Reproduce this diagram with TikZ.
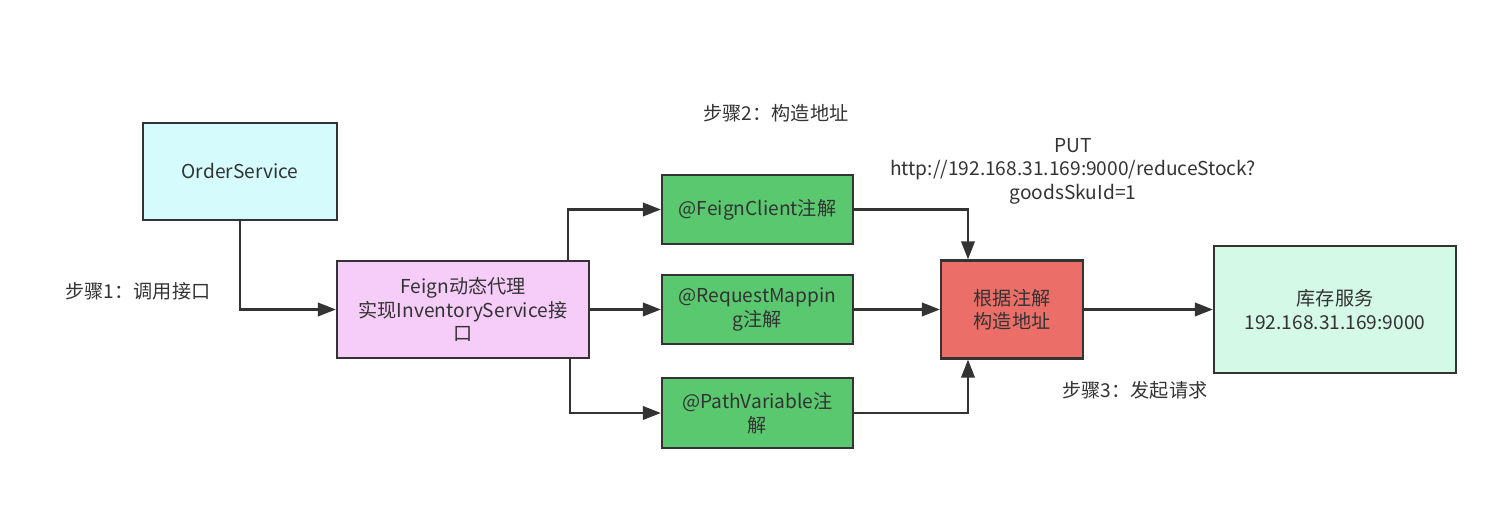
\documentclass[tikz,border=0pt]{standalone}
\usepackage{fontspec}
\setmainfont{Noto Sans CJK SC}
\usepackage{tikz}
\usetikzlibrary{positioning,arrows.meta}
\usepackage{xcolor}

\definecolor{linegray}{HTML}{333333}
\definecolor{txtgray}{HTML}{333333}
\definecolor{cyanfill}{HTML}{D5FBFC}
\definecolor{pinkfill}{HTML}{F5CDF8}
\definecolor{greenfill}{HTML}{5AC86F}
\definecolor{redfill}{HTML}{EC6E68}
\definecolor{mintfill}{HTML}{D4F9E6}

\begin{document}
\begin{tikzpicture}[
        font=\fontsize{10.9}{13.4}\selectfont, text=txtgray,
        box/.style={draw=linegray, line width=1.3pt, align=center, inner sep=2pt},
        flow/.style={draw=linegray, line width=1.3pt, -{Triangle[length=0.36cm, width=0.27cm]}},
        steplabel/.style={align=center}
    ]
        \useasboundingbox (0,0) rectangle (30.08,10.52);

        % Boxes
        \node[box, fill=cyanfill, minimum width=3.88cm, minimum height=1.94cm] (order) at (4.80,7.09) {OrderService};
        \node[box, fill=pinkfill, minimum width=5.04cm, minimum height=1.94cm] (feign) at (9.26,4.33) {Feign动态代理\\实现InventoryService接\\口};

        \node[box, fill=greenfill, minimum width=3.82cm, minimum height=1.38cm] (client) at (15.15,6.33) {@FeignClient注解};
        \node[box, fill=greenfill, minimum width=3.82cm, minimum height=1.38cm] (mapping) at (15.15,4.33) {@RequestMappin\\g注解};
        \node[box, fill=greenfill, minimum width=3.82cm, minimum height=1.40cm] (pathvar) at (15.15,2.26) {@PathVariable注\\解};

        \node[box, fill=redfill, minimum width=2.84cm, minimum height=1.96cm] (build) at (20.24,4.33) {根据注解\\构造地址};
        \node[box, fill=mintfill, minimum width=4.84cm, minimum height=2.54cm] (stock) at (26.70,4.33) {库存服务\\192.168.31.169:9000};

        % Connectors
        \draw[flow] (order.south) |- (feign.west);
        \draw[flow] ([xshift=2.1cm]feign.north) |- (client.west);
        \draw[flow] (feign.east) -- (mapping.west);
        \draw[flow] ([xshift=2.14cm]feign.south) |- (pathvar.west);

        \draw[flow] (client.east) -| ([xshift=-0.88cm]build.north);
        \draw[flow] (mapping.east) -- (build.west);
        \draw[flow] (pathvar.east) -| ([xshift=-0.88cm]build.south);
        \draw[flow] (build.east) -- (stock.west);

        % Labels
        \node[steplabel] (step1) at (2.76,4.70) {步骤1：调用接口};
        \node[steplabel] (step2) at (15.52,8.26) {步骤2：构造地址};
        \node[steplabel] (url) at (21.46,7.10) {PUT\\http://192.168.31.169:9000/reduceStock?\\goodsSkuId=1};
        \node[steplabel] (step3) at (22.70,2.72) {步骤3：发起请求};
    \end{tikzpicture}
\end{document}
